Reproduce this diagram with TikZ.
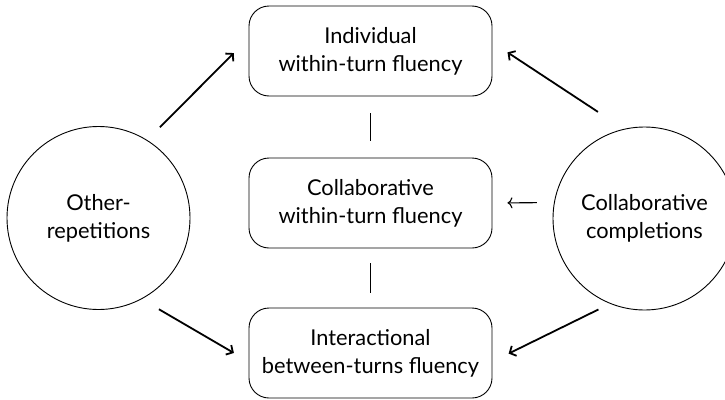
\documentclass[tikz,border=0pt]{standalone}
\usepackage{fontspec}
\setmainfont{Lato}
\usetikzlibrary{arrows.meta}

\begin{document}
\begin{tikzpicture}[x=1pt,y=-1pt,font=\fontsize{21.8}{28}\selectfont]

        \useasboundingbox (0,0) rectangle (725,399);

        \begin{scope}[every node/.style={draw,rounded corners=20pt,line width=0.9pt,
                      minimum width=243pt,minimum height=90pt,align=center}]
          \node (indiv)  at (370.5,51)  {Individual\\within-turn fluency};
          \node (collab) at (370.5,203) {Collaborative\\within-turn fluency};
          \node (inter)  at (370.5,353) {Interactional\\between-turns fluency};
        \end{scope}

        \begin{scope}[every node/.style={circle,draw,line width=0.9pt,
                      minimum size=183pt,align=center}]
          \node (otherrep)   at (98.5,218)   {Other-\\repetitions};
          \node (collabcomp) at (644.5,218.5) {Collaborative\\completions};
        \end{scope}

        \begin{scope}[every edge/.style={draw,line width=1.8pt},
                      >={Straight Barb[length=5pt,width=11pt]}]
          \path (indiv)  edge[shorten <=17pt,shorten >=17pt] (collab);
          \path (collab) edge[shorten <=15pt,shorten >=15pt] (inter);
          \path (otherrep.58)   edge[->,shorten <=18pt,shorten >=21pt] (indiv.174);
          \path (otherrep.298)  edge[->,shorten <=20pt,shorten >=17pt] (inter.184);
          \path (collabcomp.103) edge[->,shorten <=31pt,shorten >=18pt] (indiv.4);
          \path (collabcomp.248) edge[->,shorten <=13pt,shorten >=18pt] (inter.356);
          \path (collab.east) edge[<-,line width=1.1pt,>={To[length=5pt,width=11pt]},
                                   shorten <=15pt,shorten >=17pt] (collabcomp.170);
        \end{scope}

      \end{tikzpicture}
\end{document}
